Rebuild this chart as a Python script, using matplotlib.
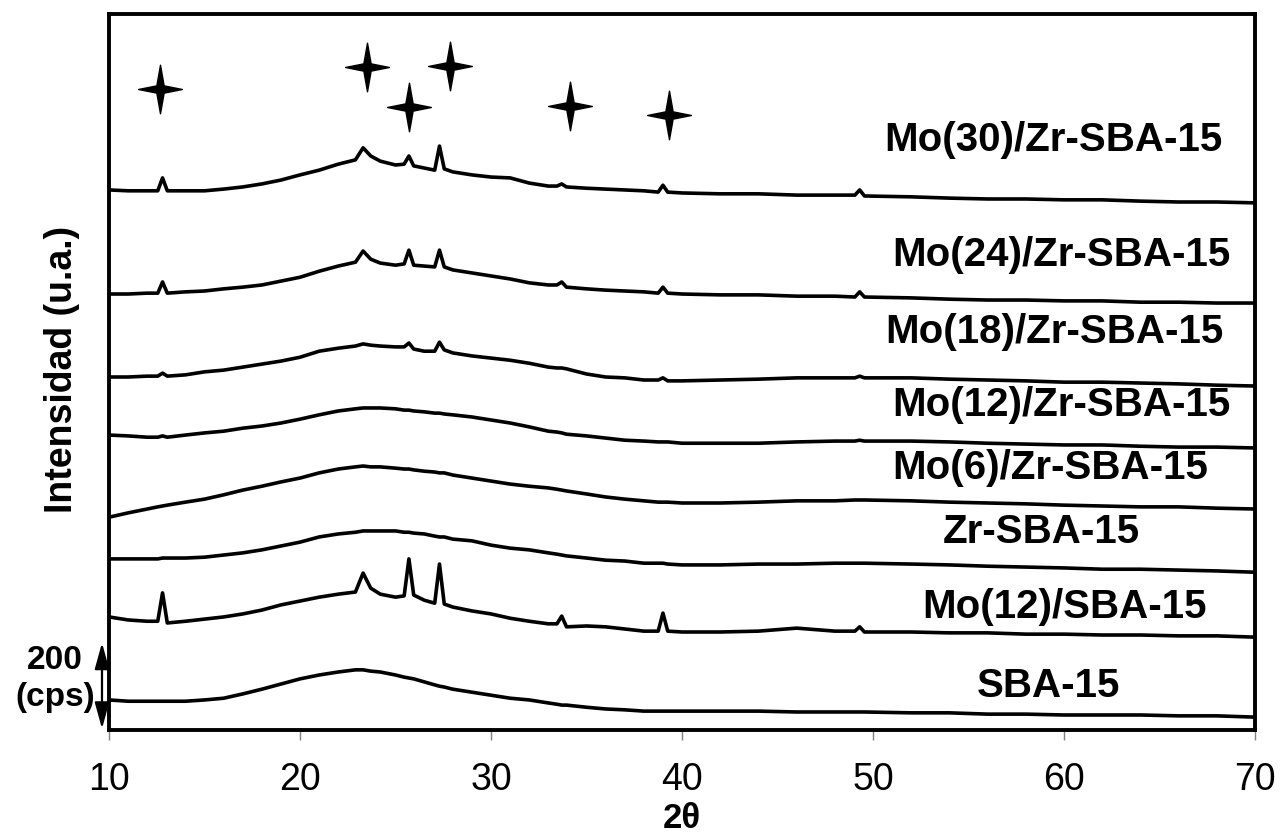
import matplotlib.pyplot as plt
from matplotlib.path import Path

plt.rcParams["font.family"] = ["Liberation Sans", "DejaVu Sans"]

# 2-theta sampling (degrees) shared by all patterns, denser around reflections
two_theta = [10, 11, 12, 12.55, 12.8, 13.05, 14, 15, 16, 17, 18, 19, 20, 21, 22,
             22.9, 23.3, 23.7, 24.2, 25, 25.45, 25.7, 25.95, 26.5, 27.05, 27.3, 27.55,
             28, 29, 30, 31, 32, 33, 33.45, 33.7, 33.95, 35, 36, 37, 38, 38.75, 39.0,
             39.25, 40, 42, 44, 46, 48, 49.05, 49.3, 49.55, 52, 54, 56, 58, 60, 62, 64,
             66, 68, 70]

# stacked intensities (cps, offsets included)
mo30_zr = [1256, 1254, 1254, 1254, 1284, 1254, 1254, 1254, 1258, 1263, 1270, 1279, 1291,
           1302, 1316, 1326, 1354, 1335, 1323, 1314, 1316, 1335, 1312, 1307, 1302, 1358,
           1305, 1298, 1291, 1286, 1284, 1272, 1265, 1265, 1270, 1263, 1260, 1258, 1256,
           1254, 1251, 1267, 1251, 1249, 1247, 1247, 1244, 1244, 1244, 1256, 1242, 1240,
           1237, 1235, 1235, 1233, 1233, 1230, 1228, 1228, 1226]
mo24_zr = [1014, 1014, 1016, 1016, 1042, 1016, 1019, 1021, 1026, 1030, 1035, 1044, 1053,
           1067, 1079, 1088, 1114, 1095, 1086, 1081, 1084, 1116, 1081, 1079, 1077, 1116,
           1077, 1070, 1063, 1056, 1049, 1040, 1035, 1035, 1042, 1030, 1026, 1023, 1021,
           1019, 1016, 1030, 1016, 1014, 1012, 1012, 1009, 1009, 1007, 1019, 1007, 1005,
           1002, 1000, 1000, 998, 998, 995, 995, 993, 993]
mo18_zr = [821, 821, 823, 823, 830, 823, 826, 833, 837, 844, 851, 858, 867, 881, 888, 893,
           898, 895, 893, 891, 891, 900, 886, 881, 881, 902, 884, 877, 870, 865, 860, 853,
           844, 842, 842, 840, 828, 821, 819, 814, 814, 819, 812, 812, 814, 816, 819, 819,
           819, 823, 819, 819, 816, 814, 812, 809, 809, 807, 805, 802, 800]
mo12_zr = [686, 684, 681, 681, 684, 681, 686, 691, 695, 702, 707, 714, 723, 733, 742, 747,
           749, 749, 749, 747, 744, 744, 742, 740, 737, 737, 735, 733, 728, 721, 714, 705,
           695, 693, 691, 688, 684, 679, 674, 672, 670, 670, 670, 667, 667, 667, 670, 672,
           672, 674, 672, 672, 670, 667, 665, 663, 663, 660, 658, 658, 656]
mo6_zr = [495, 505, 514, 519, 521, 523, 530, 537, 547, 558, 567, 577, 586, 598, 607, 612,
          614, 612, 612, 609, 607, 607, 605, 602, 600, 598, 598, 593, 586, 579, 572, 567,
          563, 560, 558, 556, 549, 542, 537, 533, 530, 530, 530, 528, 528, 530, 533, 533,
          535, 535, 535, 533, 530, 528, 526, 523, 521, 519, 519, 516, 514]
zr_sba15 = [398, 398, 398, 398, 400, 400, 400, 402, 407, 412, 419, 428, 437, 449, 456, 460,
            463, 463, 463, 463, 460, 460, 458, 456, 451, 449, 449, 444, 440, 430, 423, 419,
            412, 409, 407, 405, 400, 395, 393, 388, 388, 388, 386, 384, 384, 386, 386, 388,
            388, 388, 388, 386, 384, 381, 379, 377, 374, 374, 372, 370, 367]
mo12_sba15 = [263, 256, 253, 253, 319, 249, 253, 258, 263, 270, 279, 291, 300, 309, 316, 321,
              365, 330, 316, 309, 312, 398, 314, 302, 295, 386, 293, 286, 277, 270, 260, 253,
              247, 247, 265, 240, 242, 240, 235, 230, 230, 272, 230, 228, 228, 230, 237, 230,
              230, 240, 228, 228, 226, 226, 223, 223, 221, 221, 219, 219, 216]
sba15 = [70, 67, 67, 67, 67, 67, 67, 70, 74, 84, 95, 107, 119, 128, 135, 140, 140, 137, 135,
         128, 123, 121, 119, 112, 105, 102, 100, 95, 88, 81, 74, 70, 63, 60, 58, 58, 53, 49,
         47, 44, 44, 44, 44, 44, 44, 44, 42, 42, 42, 42, 42, 40, 40, 37, 37, 35, 35, 35, 33,
         33, 30]

series = [mo30_zr, mo24_zr, mo18_zr, mo12_zr, mo6_zr, zr_sba15, mo12_sba15, sba15]
labels = ["Mo(30)/Zr-SBA-15", "Mo(24)/Zr-SBA-15", "Mo(18)/Zr-SBA-15", "Mo(12)/Zr-SBA-15",
          "Mo(6)/Zr-SBA-15", "Zr-SBA-15", "Mo(12)/SBA-15", "SBA-15"]
label_x = [59.45, 59.87, 59.48, 59.87, 59.27, 58.82, 60.0, 59.19]
label_y = [1372, 1105, 926, 756, 609, 460, 286, 102]

# MoO3 reflections marked with stars
star_theta = [12.67, 23.48, 25.68, 27.83, 34.12, 39.31]
star_y = [1491, 1542, 1449, 1544, 1451, 1430]

scale_cps = 200


def star_path():
    a = 0.15
    verts = [(0, 1), (a, a), (0.9, 0), (a, -a), (0, -1), (-a, -a), (-0.9, 0), (-a, a), (0, 1)]
    codes = [Path.MOVETO] + [Path.LINETO] * 7 + [Path.CLOSEPOLY]
    return Path(verts, codes)


fig = plt.figure(figsize=(12.8, 8.33), dpi=100)
ax = fig.add_axes([0.0852, 0.1236, 0.8953, 0.8595])

for ys in series:
    ax.plot(two_theta, ys, color="black", lw=2.6, solid_joinstyle="round")

ax.plot(star_theta, star_y, ls="none", marker=star_path(), ms=35, color="black")

for lab, lx, ly in zip(labels, label_x, label_y):
    ax.text(lx, ly, lab, ha="center", va="center", fontsize=29, fontweight="bold")

ax.set_xlim(10, 70)
ax.set_ylim(0, 1665)
ax.set_xticks(range(10, 71, 10))
ax.set_yticks([])
ax.tick_params(axis="x", direction="out", length=7, width=1, color="gray",
               labelsize=27, pad=16)
for sp in ax.spines.values():
    sp.set_linewidth(2.8)

ax.set_xlabel("2θ", fontsize=25, fontweight="bold", va="center")
ax.xaxis.set_label_coords(0.5, -0.124)
ax.set_ylabel("Intensidad (u.a.)", fontsize=27, fontweight="bold", va="center")
ax.yaxis.set_label_coords(-0.041, 0.503)

# 200 cps scale bar
ax.annotate("", xy=(9.63, 3 + scale_cps), xytext=(9.63, 3),
            arrowprops=dict(arrowstyle="<|-|>,head_length=0.8,head_width=0.22",
                            color="black", lw=1.6, mutation_scale=20,
                            shrinkA=0, shrinkB=0),
            annotation_clip=False)
ax.text(7.17, 118, f"{scale_cps}\n(cps)", ha="center", va="center", fontsize=24,
        fontweight="bold", clip_on=False, linespacing=1.25)

fig.savefig("out.png", dpi=100)
